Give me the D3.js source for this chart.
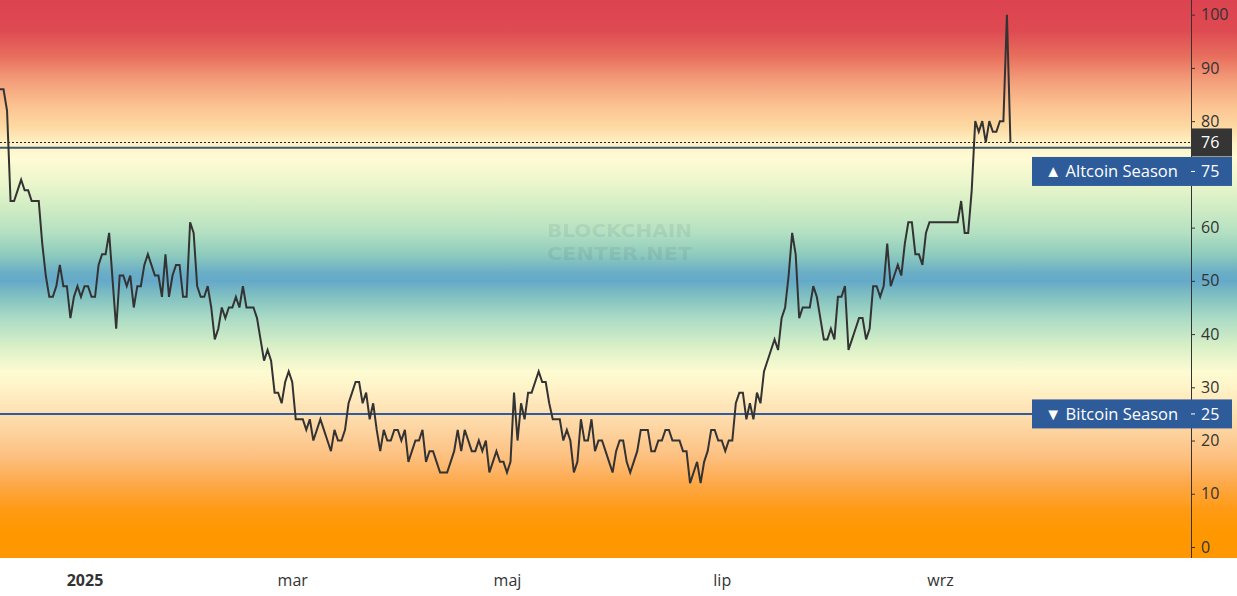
<!DOCTYPE html>
<html>
<head>
<meta charset="utf-8">
<script src="https://cdn.jsdelivr.net/npm/d3@7"></script>
<style>
  body { margin: 0; background: #fff; }
  svg { display: block; font-family: 'Open Sans', sans-serif; }
</style>
</head>
<body>
<svg id="chart" width="1237" height="596"></svg>
<script>
// Altcoin Season Index, one value per day starting 8 Dec 2024
const startDate = new Date(2024, 11, 8);
const indexValues = [
  86,86,82,65,65,67,69,67,67,65,65,65,57,51,47,47,49,53,49,49,43,47,49,47,49,49,47,47,53,55,55,59,50,41,51,51,49,51,45,49,49,53,55,53,51,51,47,55,47,51,53,53,
  47,47,61,59,49,47,47,49,45,39,41,45,43,45,45,47,45,49,45,45,45,43,39,35,37,35,29,29,27,31,33,31,24,24,24,22,24,20,22,24,22,20,18,22,20,20,22,27,29,31,
  31,27,29,24,27,22,18,22,20,20,22,22,20,22,16,18,20,20,22,16,18,18,16,14,14,14,16,18,22,18,22,20,18,18,20,18,20,14,16,18,16,16,14,16,29,20,27,24,29,29,31,33,
  31,31,27,24,24,24,20,22,20,14,16,24,20,20,24,18,20,20,18,16,14,18,20,20,16,14,16,18,22,22,22,18,18,20,20,22,22,20,20,20,18,18,12,14,16,12,16,18,22,22,20,20,18,
  20,20,27,29,29,24,27,24,29,27,33,35,37,39,37,43,45,51,59,55,43,45,45,45,49,47,43,39,39,41,39,47,47,49,37,39,41,43,43,39,41,49,49,47,49,57,49,51,53,51,57,61,61,55,55,53,59,
  61,61,61,61,61,61,61,61,61,65,59,59,67,80,78,80,76,80,78,78,80,80,100,76
];
const lastValue = 76;

const tickDates = [new Date(2025, 0, 1), new Date(2025, 2, 1), new Date(2025, 4, 1), new Date(2025, 6, 1), new Date(2025, 8, 1)];
const tickLabels = ['2025', 'mar', 'maj', 'lip', 'wrz'];
// 70 sits under the altcoin label in the original, so it is left out
const yTicks = [0, 10, 20, 30, 40, 50, 60, 80, 90, 100];

const seasonLevels = [75, 25];
const seasonNames = ['\u25B2 Altcoin Season', '\u25BC Bitcoin Season'];
const seasonLineColors = ['#3e5870', '#2f5c9b'];

// background colour bands, by index value
const bandValues = [103, 97, 92, 88, 83, 79, 75.5, 73, 69, 64, 59, 55, 51.5, 50, 47, 43, 38, 33, 30, 26, 22, 17, 12, 7, 3, -3];
const bandColors = ['#dc4350', '#de4a52', '#e8705e', '#f29a78', '#fbc290', '#fdd9a2', '#fff4c8', '#fffbd4', '#eef7cd', '#d2edc4',
  '#b3e0c2', '#8fcbbd', '#6aaec6', '#64a9c8', '#82c1c1', '#aadbc5', '#d6efc6', '#fdfbd2', '#fff3c8', '#fee3b6',
  '#fdd4a0', '#fdc080', '#fda94a', '#ff9a14', '#ff9800', '#ff9800'];

const svg = d3.select('#chart');
const width = +svg.attr('width');
const plotRight = 1191, plotBottom = 558;

const data = indexValues.map((v, i) => ({ date: d3.timeDay.offset(startDate, i), value: v }));

const x = d3.scaleTime()
  .domain([startDate, d3.timeDay.offset(startDate, 338)])
  .range([0, plotRight - 1]);
const y = d3.scaleLinear().domain([0, 100]).range([547, 14.7]);

// gradient background
const grad = svg.append('defs').append('linearGradient')
  .attr('id', 'bg').attr('gradientUnits', 'userSpaceOnUse')
  .attr('x1', 0).attr('y1', 0).attr('x2', 0).attr('y2', plotBottom);
grad.selectAll('stop').data(bandValues).enter().append('stop')
  .attr('offset', d => Math.max(0, Math.min(1, y(d) / plotBottom)))
  .attr('stop-color', (d, i) => bandColors[i]);
svg.append('rect').attr('x', 0).attr('y', 0).attr('width', width).attr('height', plotBottom).attr('fill', 'url(#bg)');

// watermark
const wm = svg.append('g').attr('fill', 'rgba(60,70,80,0.11)').attr('font-weight', 700)
  .attr('font-size', 18).attr('font-family', "'DejaVu Sans', sans-serif");
wm.append('text').attr('x', 547).attr('y', 237).attr('textLength', 145).attr('lengthAdjust', 'spacingAndGlyphs').text('BLOCKCHAIN');
wm.append('text').attr('x', 547).attr('y', 260).attr('textLength', 145).attr('lengthAdjust', 'spacingAndGlyphs').text('CENTER.NET');

// season lines
svg.append('g').selectAll('line').data(seasonLevels).enter().append('line')
  .attr('x1', 0).attr('x2', plotRight)
  .attr('y1', d => y(d)).attr('y2', d => y(d))
  .attr('stroke', (d, i) => seasonLineColors[i]).attr('stroke-width', 2);

// last value dotted line
svg.append('line')
  .attr('x1', 0).attr('x2', plotRight)
  .attr('y1', Math.round(y(lastValue)) + 0.5).attr('y2', Math.round(y(lastValue)) + 0.5)
  .attr('stroke', '#222').attr('stroke-width', 1).attr('stroke-dasharray', '2,2');

// index line
svg.append('path').datum(data)
  .attr('fill', 'none').attr('stroke', '#333').attr('stroke-width', 2)
  .attr('d', d3.line().x(d => x(d.date)).y(d => y(d.value)));

// right axis
const yAxis = svg.append('g').attr('transform', `translate(${plotRight},0)`)
  .call(d3.axisRight(y).tickValues(yTicks).tickSize(4).tickPadding(6));
yAxis.select('.domain').remove();
yAxis.selectAll('line').attr('stroke', '#333');
yAxis.selectAll('text').attr('fill', '#333').attr('font-size', 16).attr('font-family', "'Open Sans', sans-serif");
svg.append('line').attr('x1', plotRight + 0.5).attr('x2', plotRight + 0.5).attr('y1', 0).attr('y2', plotBottom)
  .attr('stroke', '#333').attr('stroke-width', 1);

// bottom axis
const xAxis = svg.append('g').attr('transform', `translate(0,${plotBottom})`)
  .call(d3.axisBottom(x).tickValues(tickDates).tickFormat((d, i) => tickLabels[i]).tickSize(0));
xAxis.select('.domain').remove();
xAxis.selectAll('text')
  .attr('y', 22).attr('dy', '0.35em')
  .attr('fill', '#333').attr('font-size', 16).attr('font-family', "'Open Sans', sans-serif")
  .attr('font-weight', (d, i) => i === 0 ? 700 : 400);

// last value label
const lastY = y(lastValue);
const lastBox = svg.append('g');
lastBox.append('rect').attr('x', plotRight).attr('y', lastY - 14).attr('width', 41).attr('height', 28).attr('fill', '#353535');
lastBox.append('text').attr('x', plotRight + 10).attr('y', lastY).attr('dy', '0.35em')
  .attr('fill', '#fff').attr('font-size', 16).text(lastValue);

// season labels (altcoin label pushed below the last value label)
const labelCenters = [lastY + 14 + 15, y(seasonLevels[1])];
seasonLevels.forEach((lv, i) => {
  const cy = labelCenters[i];
  const g = svg.append('g');
  g.append('rect').attr('x', 1032).attr('y', cy - 14.5).attr('width', 200).attr('height', 29).attr('fill', '#2e5c9a');
  g.append('text').attr('x', 1045).attr('y', cy).attr('dy', '0.35em')
    .attr('fill', '#fff').attr('font-size', 16.5).text(seasonNames[i]);
  g.append('line').attr('x1', plotRight).attr('x2', plotRight + 4).attr('y1', cy).attr('y2', cy)
    .attr('stroke', '#fff').attr('stroke-width', 1);
  g.append('text').attr('x', plotRight + 10).attr('y', cy).attr('dy', '0.35em')
    .attr('fill', '#fff').attr('font-size', 16).text(lv);
});
</script>
</body>
</html>
